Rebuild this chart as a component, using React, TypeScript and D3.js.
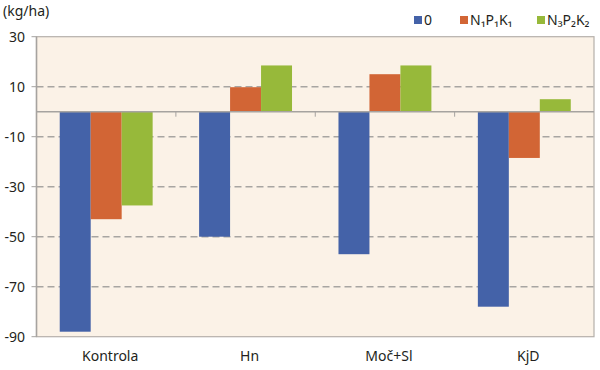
import * as d3 from 'd3';
import React from 'react';

const categories = ['Kontrola', 'Hn', 'Moč+Sl', 'KjD'];
const seriesNames = ['0', 'N₁P₁K₁', 'N₃P₂K₂'];
const seriesValues = [
    [-88, -50, -57, -78],
    [-43, 9.8, 15, -18.5],
    [-37.5, 18.5, 18.5, 5],
];
const yTicks = [30, 10, -10, -30, -50, -70, -90];
const colors = ['#4462a8', '#d26535', '#97b93a'];

const FONT = '"Noto Sans", "DejaVu Sans", sans-serif';

const App = () => {
    const width = 600;
    const height = 370;
    const left = 36.5;
    const right = 594;
    const top = 36.7;
    const bottom = 336.7;

    const x = d3.scaleBand().domain(categories).range([left, right]).padding(0);
    const xs = d3.scaleBand()
        .domain(seriesNames)
        .range([0, x.bandwidth()])
        .paddingInner(0)
        .paddingOuter(0.75);
    const y = d3.scaleLinear().domain([-90, 30]).range([bottom, top]);

    const grid = yTicks.filter(t => t !== 30 && t !== -90);
    // legend layout (x of each swatch)
    const legendX = [414, 460, 537];

    return (
        <svg width={width} height={height}
            style={{ position: 'absolute', left: 0, top: 0, background: '#fff' }}
            fontFamily={FONT}>
            <rect x={left} y={top} width={right - left} height={bottom - top}
                fill="#fbf2e7" stroke="#b5b0aa" strokeWidth={1.2} />

            {grid.map(t => (
                <line key={t} x1={left} x2={right} y1={y(t)} y2={y(t)}
                    stroke="#a8a5a2" strokeWidth={1.5} strokeDasharray="7,4" />
            ))}

            {seriesValues.map((vals, si) => vals.map((v, ci) => (
                <rect key={`${si}-${ci}`}
                    x={x(categories[ci])! + xs(seriesNames[si])!}
                    y={y(Math.max(0, v))}
                    width={xs.bandwidth()}
                    height={Math.abs(y(v) - y(0))}
                    fill={colors[si]} />
            )))}

            {/* zero line + category ticks */}
            <line x1={left} x2={right} y1={y(0)} y2={y(0)} stroke="#a6a3a0" strokeWidth={1.5} />
            {categories.slice(1).map(c => (
                <line key={c} x1={x(c)} x2={x(c)} y1={y(0)} y2={y(0) + 5}
                    stroke="#a6a3a0" strokeWidth={1} />
            ))}

            {/* y axis */}
            <line x1={left} x2={left} y1={top} y2={bottom} stroke="#a6a3a0" strokeWidth={1.5} />
            {yTicks.map(t => (
                <g key={t}>
                    <line x1={left - 5} x2={left} y1={y(t)} y2={y(t)} stroke="#a6a3a0" strokeWidth={1} />
                    <text x={25} y={y(t)} dy="0.35em" textAnchor="end" fontSize={14} fill="#231f20">{t}</text>
                </g>
            ))}
            <text x={3} y={16} fontSize={14} fill="#231f20">(kg/ha)</text>

            {categories.map(c => (
                <text key={c} x={x(c)! + x.bandwidth() / 2 + 4} y={361} textAnchor="middle"
                    fontSize={14} fill="#231f20">{c}</text>
            ))}

            {seriesNames.map((s, i) => (
                <g key={s}>
                    <rect x={legendX[i]} y={16} width={8} height={8} fill={colors[i]} />
                    <text x={legendX[i] + 10} y={25} fontSize={14} fill="#231f20">{s}</text>
                </g>
            ))}
        </svg>
    );
};

export default App;
